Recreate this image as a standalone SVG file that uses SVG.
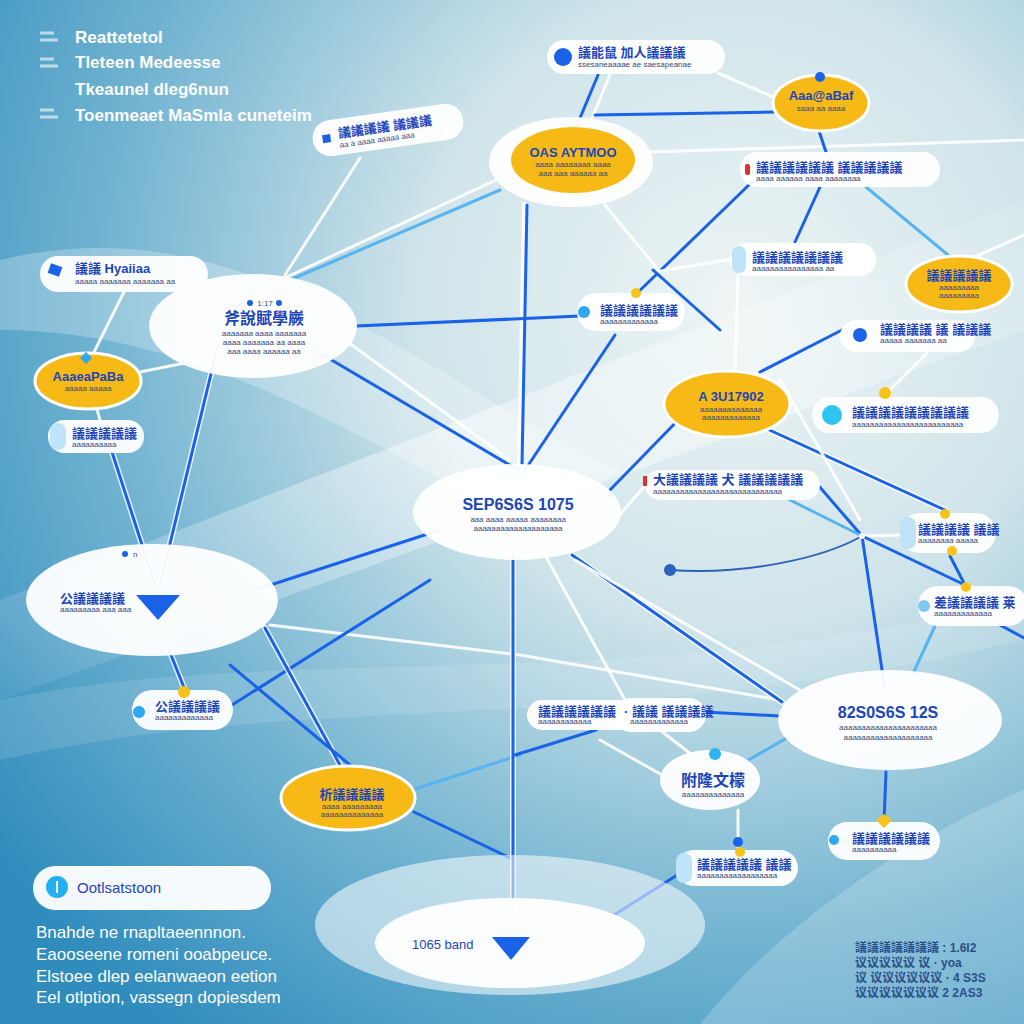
<svg xmlns="http://www.w3.org/2000/svg" width="1024" height="1024" viewBox="0 0 1024 1024">
<defs>
<radialGradient id="bg" cx="0.72" cy="0.3" r="0.9">
<stop offset="0" stop-color="#eef5f5"/>
<stop offset="0.35" stop-color="#cfe4ea"/>
<stop offset="0.7" stop-color="#6fb2d0"/>
<stop offset="1" stop-color="#2f8cbd"/>
</radialGradient>
<linearGradient id="band" x1="0" y1="1" x2="1" y2="0">
<stop offset="0" stop-color="#fff" stop-opacity="0.05"/>
<stop offset="0.5" stop-color="#fff" stop-opacity="0.45"/>
<stop offset="1" stop-color="#fff" stop-opacity="0.1"/>
</linearGradient>
</defs>
<style>
text{font-family:"Liberation Sans","Noto Sans CJK SC",sans-serif}
.leg{fill:#fff;font-size:17px;font-weight:bold}
.par{fill:#fff;font-size:17px}
.t{fill:#1d45b8;font-weight:bold;font-size:13px}
.tb{fill:#1d45b8;font-weight:bold;font-size:16px}
.s{fill:#3a4a78;font-size:8px}
.pill{fill:#fff;fill-opacity:0.95}
.ell{fill:#fff;fill-opacity:0.95}
.yel{fill:#f7b916;stroke:#fff;stroke-width:3}
.bl{stroke:#1a62e8;stroke-width:3;fill:none;stroke-linecap:round}
.lb{stroke:#58b4f0;stroke-width:3;fill:none;stroke-linecap:round}
.wh{stroke:#fff;stroke-width:3;fill:none;stroke-linecap:round;stroke-opacity:0.9}
.halo{stroke:#fff;stroke-width:6;fill:none;stroke-linecap:round;stroke-opacity:0.8}
.tab{fill:#bfe3f8}
.dotY{fill:#f7c21a}
.dotB{fill:#1a62e8}
.dotC{fill:#2fb4f0}
.note{font-size:12px;fill:#2b4f8a;font-weight:bold}
</style>
<rect width="1024" height="1024" fill="url(#bg)"/>
<path d="M0,600 L1024,200 L1024,330 L0,700z" fill="url(#band)"/>
<path d="M0,260 C250,200 420,380 620,470 L520,520 C360,440 200,330 0,330z" fill="#fff" fill-opacity="0.25"/>
<path d="M0,700 C300,640 600,700 1024,600 L1024,640 C600,740 300,690 0,760z" fill="#fff" fill-opacity="0.12"/>
<path d="M700,1024 C800,900 950,820 1024,790 L1024,1024z" fill="#fff" fill-opacity="0.2"/>

<g id="connectors">
<path class="halo" d="M525,205 L520,465"/><path class="bl" d="M527,205 L522,465"/>
<path class="bl" d="M598,75 L575,130"/>
<path class="wh" d="M610,75 L585,135"/>
<path class="wh" d="M718,73 L780,100"/>
<path class="bl" d="M595,115 L776,112"/>
<path class="wh" d="M650,152 L1024,140"/>
<path class="bl" d="M818,128 L826,152"/>
<path class="bl" d="M752,182 L630,300"/>
<path class="bl" d="M820,187 L795,242"/>
<path class="lb" d="M866,187 L948,255"/>
<path class="wh" d="M496,180 L276,282"/>
<path class="lb" d="M500,190 L290,280"/>
<path class="wh" d="M360,158 L285,275"/>
<path class="wh" d="M605,205 L660,272"/>
<path class="wh" d="M655,272 L738,258"/>
<path class="bl" d="M653,270 L720,330"/>
<path class="wh" d="M125,290 L92,356"/>
<path class="bl" d="M356,326 L580,316"/>
<path class="halo" d="M218,345 L160,585"/><path class="bl" d="M218,345 L160,585"/>
<path class="bl" d="M318,352 L518,470"/>
<path class="wh" d="M290,300 L510,460"/>
<path class="wh" d="M140,372 L200,360"/>
<path class="wh" d="M96,406 L100,420"/>
<path class="halo" d="M112,452 L155,585"/><path class="bl" d="M112,452 L155,585"/>
<path class="bl" d="M255,590 L440,530"/>
<path class="halo" d="M165,640 L185,690"/><path class="bl" d="M165,640 L185,690"/>
<path class="wh" d="M270,625 L520,655 L780,700"/>
<path class="bl" d="M232,705 L430,580"/>
<path class="halo" d="M265,628 L340,765"/><path class="bl" d="M265,628 L340,765"/>
<path class="bl" d="M230,665 L350,765"/>
<path class="bl" d="M414,812 L510,858"/>
<path class="lb" d="M412,790 L520,755"/>
<path class="halo" d="M513,555 L513,920"/><path class="bl" d="M513,555 L513,920"/>
<path class="wh" d="M545,555 L625,700"/>
<path class="halo" d="M572,555 L782,702"/><path class="bl" d="M572,555 L782,702"/>
<path class="wh" d="M575,560 L800,690"/>
<path class="wh" d="M615,520 L650,480"/>
<path class="bl" d="M610,490 L722,375"/>
<path class="bl" d="M525,470 L615,335"/>
<path class="halo" d="M765,428 L945,510"/><path class="bl" d="M765,428 L945,510"/>
<path class="wh" d="M735,370 L738,276"/>
<path class="bl" d="M760,372 L842,330"/>
<path class="wh" d="M780,380 L860,520"/>
<path class="wh" d="M885,395 L950,330"/>
<path class="bl" d="M818,485 L862,536"/>
<path class="lb" d="M780,495 L862,536"/>
<path class="wh" d="M862,536 L900,535"/>
<path d="M862,536 C820,560 740,575 670,570" stroke="#2a63b8" stroke-width="2" fill="none"/>
<path class="bl" d="M862,536 L885,690"/>
<path class="bl" d="M862,536 L965,585" stroke-width="2"/>
<path class="bl" d="M950,556 L965,585"/>
<path class="lb" d="M935,626 L910,680"/>
<path class="bl" d="M1000,625 L1024,638"/>
<path class="wh" d="M945,270 L1024,235"/>
<path class="bl" d="M780,716 L705,712"/>
<path class="bl" d="M886,772 L884,822"/>
<path class="lb" d="M745,762 L792,735"/>
<path class="wh" d="M738,810 L738,848"/>
<path class="bl" d="M682,872 L606,920"/>
<path class="bl" d="M596,730 L515,755"/>
<path class="wh" d="M662,775 L600,740"/>
<path class="wh" d="M660,730 L705,765"/>
<circle cx="670" cy="570" r="6" fill="#2a63b8"/>
<circle cx="862" cy="536" r="3" fill="#fff"/>
</g>

<g id="legend">
<path d="M40,33 h14 M40,40 h18" stroke="#fff" stroke-width="3" stroke-opacity="0.6"/>
<text class="leg" x="75" y="43">Reattetetol</text>
<path d="M40,59 h14 M40,66 h18" stroke="#fff" stroke-width="3" stroke-opacity="0.6"/>
<text class="leg" x="75" y="68">Tleteen Medeesse</text>
<text class="leg" x="75" y="95">Tkeaunel dleg6nun</text>
<path d="M40,110 h14 M40,117 h18" stroke="#fff" stroke-width="3" stroke-opacity="0.6"/>
<text class="leg" x="75" y="121">Toenmeaet MaSmla cuneteim</text>
</g>

<g id="n-top-pill">
<rect class="pill" x="547" y="40" width="178" height="34" rx="17"/>
<circle cx="563" cy="57" r="9" fill="#1a62e8"/>
<text class="t" x="578" y="57">議能鼠  加人議議議</text>
<text class="s" x="578" y="67">ssesaneaaaae ae saesapeanae</text>
</g>

<g id="n-yellow-tr">
<ellipse class="yel" cx="821" cy="103" rx="48" ry="28"/>
<circle class="dotB" cx="820" cy="77" r="5"/>
<text class="t" x="821" y="100" text-anchor="middle" font-size="10" fill="#1d2f78">Aaa@aBaf</text>
<text class="s" x="821" y="111" text-anchor="middle">saaa aa aaaa</text>
</g>

<g id="n-big-top">
<ellipse class="ell" cx="571" cy="162" rx="82" ry="45"/>
<ellipse cx="573" cy="160" rx="62" ry="33" fill="#f7b916"/>
<text class="t" x="573" y="157" text-anchor="middle" font-size="11" fill="#1d2f78">OAS AYTMOO</text>
<text class="s" x="573" y="167" text-anchor="middle">aaaa aaaaaaaa aaaa</text>
<text class="s" x="573" y="176" text-anchor="middle">aaa aaa aaaaaa aa</text>
</g>

<g id="n-pill-r1">
<rect class="pill" x="740" y="152" width="200" height="35" rx="17"/>
<rect x="745" y="164" width="5" height="11" rx="2" fill="#e03030"/>
<text class="t" x="756" y="172">議議議議議議 議議議議議</text>
<text class="s" x="756" y="181">aaaa aaaaaa aaaa aaaaaaaa</text>
</g>

<g id="n-pill-tl" transform="rotate(-8 388 130)">
<rect class="pill" x="312" y="112" width="152" height="36" rx="18"/>
<rect x="322" y="126" width="8" height="8" fill="#1a62e8"/>
<text class="t" x="338" y="131">議議議議 議議議</text>
<text class="s" x="338" y="141">aa a aaaa aaaaa aaa</text>
</g>

<g id="n-pill-l1">
<rect class="pill" x="40" y="256" width="168" height="36" rx="18"/>
<rect x="49" y="265" width="12" height="10" fill="#1a62e8" transform="rotate(20 55 270)"/>
<text class="t" x="75" y="273" font-size="11">議議  Hyaiiaa</text>
<text class="s" x="75" y="284">aaaaa aaaaaaa aaaaaaa aa</text>
</g>

<g id="n-ell-l1">
<ellipse class="ell" cx="253" cy="326" rx="104" ry="52"/>
<circle class="dotB" cx="250" cy="303" r="3"/><circle class="dotB" cx="279" cy="303" r="3"/>
<text class="s" x="265" y="306" text-anchor="middle">1:17</text>
<text class="tb" x="264" y="324" text-anchor="middle">斧說賦學嶡</text>
<text class="s" x="264" y="336" text-anchor="middle">aaaaaaa aaaa aaaaaaa</text>
<text class="s" x="264" y="345" text-anchor="middle">aaaa aaaaaaa aa aaaa</text>
<text class="s" x="264" y="354" text-anchor="middle">aaa aaaa aaaaaa aa</text>
</g>

<g id="n-yellow-l">
<ellipse class="yel" cx="88" cy="381" rx="53" ry="28"/>
<path d="M86,352 l6,6 l-6,6 l-6,-6z" fill="#2fa8f0"/>
<text class="t" x="88" y="381" text-anchor="middle" font-size="11" fill="#1d2f78">AaaeaPaBa</text>
<text class="s" x="88" y="391" text-anchor="middle">aaaaa aaaaa</text>
</g>

<g id="n-pill-l2">
<rect class="pill" x="48" y="420" width="96" height="33" rx="16"/>
<rect class="tab" x="50" y="423" width="16" height="27" rx="8"/>
<text class="t" x="72" y="438" font-size="11">議議議議議</text>
<text class="s" x="72" y="447">aaaaaaaaaa</text>
</g>

<g id="n-ell-l2">
<ellipse class="ell" cx="152" cy="600" rx="126" ry="56"/>
<circle class="dotB" cx="125" cy="554" r="3"/>
<text class="s" x="133" y="557">n</text>
<text class="t" x="60" y="603" font-size="11">公議議議議</text>
<text class="s" x="60" y="612">aaaaaaaaa aaa aaa</text>
<path d="M136,595 L180,595 L158,620z" fill="#1a62e8"/>
</g>

<g id="n-pill-l3">
<rect class="pill" x="132" y="690" width="101" height="40" rx="20"/>
<circle cx="139" cy="712" r="6" fill="#2fa8f0"/>
<circle class="dotY" cx="184" cy="692" r="6"/>
<text class="t" x="155" y="711" font-size="10">公議議議議</text>
<text class="s" x="155" y="720">aaaaaaaaaaaaa</text>
</g>

<g id="n-yellow-b">
<ellipse class="yel" cx="348" cy="798" rx="67" ry="32"/>
<text class="t" x="352" y="799" text-anchor="middle" font-size="11" fill="#1d2f78">析議議議議</text>
<text class="s" x="352" y="809" text-anchor="middle">aaaa aaaaaaaaa</text>
<text class="s" x="352" y="817" text-anchor="middle">aaaaaaaaaaaaaa</text>
</g>

<g id="n-center">
<ellipse class="ell" cx="517" cy="512" rx="104" ry="48"/>
<text class="tb" x="518" y="510" text-anchor="middle" font-size="17" font-weight="normal">SEP6S6S 1075</text>
<text class="s" x="518" y="522" text-anchor="middle">aaa aaaa aaaaa aaaaaaaa</text>
<text class="s" x="518" y="531" text-anchor="middle">aaaaaaaaaaaaaaaaaaaa</text>
</g>

<g id="n-pill-m1">
<rect class="pill" x="730" y="243" width="146" height="33" rx="16"/>
<rect class="tab" x="732" y="246" width="14" height="27" rx="7"/>
<text class="t" x="752" y="262" font-size="11">議議議議議議議</text>
<text class="s" x="752" y="271">aaaaaaaaaaaaaaaa aa</text>
</g>

<g id="n-yellow-r">
<ellipse class="yel" cx="959" cy="284" rx="53" ry="28"/>
<text class="t" x="959" y="280" text-anchor="middle" font-size="11" fill="#1d2f78">議議議議議</text>
<text class="s" x="959" y="290" text-anchor="middle">aaaaaaaaa</text>
<text class="s" x="959" y="298" text-anchor="middle">aaaaaaaaa</text>
</g>

<g id="n-pill-m2">
<rect class="pill" x="577" y="293" width="108" height="38" rx="19"/>
<circle cx="584" cy="312" r="6" fill="#2fa8f0"/>
<circle class="dotY" cx="636" cy="293" r="5"/>
<text class="t" x="600" y="315" font-size="10">議議議議議議</text>
<text class="s" x="600" y="324">aaaaaaaaaaaaa</text>
</g>

<g id="n-pill-m3">
<rect class="pill" x="840" y="320" width="135" height="32" rx="16"/>
<circle cx="860" cy="335" r="7" fill="#1a62e8"/>
<text class="t" x="880" y="334" font-size="10">議議議議 議 議議議</text>
<text class="s" x="880" y="343">aaaaa aaaaaaa aa</text>
</g>

<g id="n-yellow-m">
<ellipse class="yel" cx="727" cy="404" rx="63" ry="33"/>
<text class="t" x="731" y="401" text-anchor="middle" font-size="12" fill="#1d2f78">A 3U17902</text>
<text class="s" x="731" y="412" text-anchor="middle">aaaaaaaaaaaaaa</text>
<text class="s" x="731" y="420" text-anchor="middle">aaaaaaaaaaaaa</text>
</g>

<g id="n-pill-m4">
<rect class="pill" x="812" y="397" width="187" height="36" rx="18"/>
<circle cx="832" cy="415" r="10" fill="#2fc4f0"/>
<circle class="dotY" cx="885" cy="393" r="6"/>
<text class="t" x="852" y="417">議議議議議議議議議</text>
<text class="s" x="852" y="427">aaaaaaaaaaaaaaaaaaaaaaaaa</text>
</g>

<g id="n-pill-m5">
<rect class="pill" x="645" y="470" width="175" height="30" rx="15"/>
<rect x="643" y="476" width="4" height="10" fill="#e03030"/>
<text class="t" x="653" y="484" font-size="12">大議議議議 犬 議議議議議</text>
<text class="s" x="653" y="494">aaaaaaaaaaaaaaaaaaaaaaaaaaaaa</text>
</g>

<g id="n-pill-r2">
<rect class="pill" x="900" y="513" width="96" height="40" rx="20"/>
<rect class="tab" x="900" y="517" width="16" height="32" rx="8"/>
<circle class="dotY" cx="945" cy="514" r="5"/>
<circle class="dotY" cx="952" cy="551" r="5"/>
<text class="t" x="918" y="534" font-size="11">議議議議 議議</text>
<text class="s" x="918" y="543">aaaaaaaa aaaaa</text>
</g>

<g id="n-pill-r3">
<rect class="pill" x="918" y="586" width="110" height="40" rx="20"/>
<circle cx="924" cy="606" r="6" fill="#7fc8f0"/>
<circle class="dotY" cx="966" cy="587" r="5"/>
<text class="t" x="934" y="607" font-size="10">差議議議議 莱</text>
<text class="s" x="934" y="616">aaaaaaaaaaaaa</text>
</g>

<g id="n-ell-r">
<ellipse class="ell" cx="890" cy="720" rx="112" ry="50"/>
<text class="tb" x="888" y="718" text-anchor="middle" font-size="17" font-weight="normal">82S0S6S 12S</text>
<text class="s" x="888" y="730" text-anchor="middle">aaaaaaaaaaaaaaaaaaaaaa</text>
<text class="s" x="888" y="740" text-anchor="middle">aaaaaaaaaaaaaaaaaaaa</text>
</g>

<g id="n-pill-b1">
<rect class="pill" x="527" y="700" width="110" height="30" rx="15"/>
<rect class="pill" x="614" y="698" width="92" height="34" rx="17"/>
<text class="t" x="538" y="716" font-size="9">議議議議議議</text>
<text class="s" x="538" y="724">aaaaaaaaaaaa</text>
<text class="t" x="624" y="716" font-size="9">· 議議 議議議議</text>
<text class="s" x="630" y="724">aaaaaaaaaaaaa</text>
</g>

<g id="n-ell-b">
<ellipse class="ell" cx="710" cy="780" rx="50" ry="30"/>
<circle class="dotC" cx="715" cy="754" r="6"/>
<text class="tb" x="713" y="786" text-anchor="middle" font-size="18">附隆文檬</text>
<text class="s" x="713" y="797" text-anchor="middle">aaaaaaaaaaaaaa</text>
</g>

<g id="n-pill-b2">
<rect class="pill" x="828" y="822" width="112" height="38" rx="19"/>
<circle cx="834" cy="840" r="5" fill="#2fa8f0"/>
<path d="M876,820 l8,-6 l8,6 l-8,8z" fill="#f7c21a"/>
<text class="t" x="852" y="843" font-size="10">議議議議議議</text>
<text class="s" x="852" y="852">aaaaaaaaaa</text>
</g>

<g id="n-pill-b3">
<rect class="pill" x="676" y="850" width="122" height="36" rx="18"/>
<rect class="tab" x="676" y="853" width="16" height="30" rx="8"/>
<circle class="dotB" cx="738" cy="842" r="5"/>
<circle class="dotY" cx="740" cy="852" r="5"/>
<text class="t" x="697" y="869" font-size="10">議議議議議 議議</text>
<text class="s" x="697" y="878">aaaaaaaaaaaaaaaaaa</text>
</g>

<g id="n-bottom">
<ellipse cx="510" cy="925" rx="195" ry="70" fill="#fff" fill-opacity="0.55"/>
<ellipse class="ell" cx="510" cy="943" rx="135" ry="45"/>
<text x="412" y="949" font-size="13" fill="#1d45b8">1065 band</text>
<path d="M492,937 L530,937 L511,960z" fill="#1a62e8"/>
</g>

<g id="info">
<rect class="pill" x="33" y="866" width="238" height="44" rx="22"/>
<circle cx="57" cy="887" r="11" fill="#22b0f0"/>
<rect x="56" y="881" width="2" height="12" fill="#fff"/>
<text x="77" y="893" font-size="15" fill="#1d45b8">Ootlsatstoon</text>
<text class="par" x="36" y="938">Bnahde ne rnapltaeennnon.</text>
<text class="par" x="36" y="960">Eaooseene romeni ooabpeuce.</text>
<text class="par" x="36" y="982">Elstoee dlep eelanwaeon eetion</text>
<text class="par" x="36" y="1003">Eel otlption, vassegn dopiesdem</text>
</g>

<g id="notes">
<text class="note" x="855" y="952">議議議議議議議 : 1.6I2</text>
<text class="note" x="855" y="967">议议议议议 议  ·  yoa</text>
<text class="note" x="855" y="982">议 议议议议议议 · 4 S3S</text>
<text class="note" x="855" y="997">议议议议议议议 2 2AS3</text>
</g>
</svg>
